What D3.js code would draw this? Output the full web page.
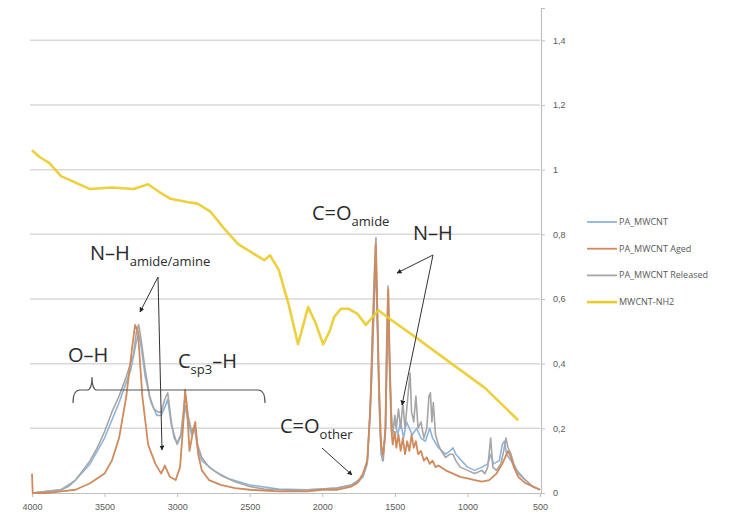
<!DOCTYPE html>
<html>
<head>
<meta charset="utf-8">
<script src="https://cdn.jsdelivr.net/npm/d3@7"></script>
<style>
  body { margin: 0; background: #fff; }
  svg { font-family: "Open Sans", "Liberation Sans", sans-serif; }
  .tick text { fill: #595959; font-size: 9px; }
</style>
</head>
<body>
<svg id="target" width="750" height="527"></svg>
<script>
// Wavenumber (cm-1) / absorbance pairs
let paMwcnt = [[4000,0],[3800,0.01],[3700,0.04],[3600,0.09],[3500,0.17],[3400,0.28],[3320,0.38],[3280,0.47],[3265,0.49],[3250,0.46],[3220,0.36],[3180,0.28],[3140,0.24],[3110,0.24],[3080,0.27],[3065,0.29],[3040,0.21],[3000,0.15],[2970,0.18],[2945,0.27],[2925,0.22],[2900,0.18],[2880,0.2],[2860,0.14],[2830,0.1],[2750,0.07],[2650,0.045],[2500,0.025],[2300,0.012],[2100,0.01],[1900,0.015],[1800,0.025],[1720,0.05],[1690,0.09],[1660,0.35],[1640,0.62],[1630,0.7],[1620,0.5],[1600,0.18],[1585,0.1],[1565,0.18],[1550,0.5],[1546,0.56],[1535,0.35],[1520,0.2],[1500,0.22],[1480,0.18],[1460,0.22],[1440,0.17],[1420,0.22],[1400,0.2],[1380,0.18],[1350,0.2],[1320,0.17],[1290,0.16],[1260,0.2],[1240,0.17],[1200,0.14],[1150,0.12],[1120,0.13],[1100,0.14],[1080,0.12],[1040,0.1],[1000,0.08],[950,0.07],[900,0.08],[860,0.09],[840,0.12],[820,0.09],[780,0.1],[760,0.15],[745,0.16],[730,0.12],[700,0.1],[660,0.07],[600,0.04],[550,0.02],[500,0.01]];

let paMwcntAged = [[4000,0.06],[3995,0],[3900,0],[3800,0.005],[3700,0.01],[3600,0.03],[3500,0.06],[3450,0.1],[3400,0.17],[3350,0.3],[3310,0.45],[3290,0.52],[3270,0.5],[3240,0.3],[3200,0.15],[3150,0.09],[3110,0.06],[3085,0.085],[3050,0.05],[3010,0.04],[2980,0.08],[2960,0.2],[2945,0.32],[2930,0.25],[2915,0.13],[2895,0.18],[2875,0.22],[2855,0.12],[2830,0.07],[2780,0.04],[2700,0.025],[2600,0.015],[2500,0.01],[2300,0.005],[2100,0.005],[2000,0.01],[1900,0.01],[1800,0.02],[1760,0.03],[1720,0.06],[1690,0.1],[1670,0.25],[1655,0.45],[1640,0.65],[1632,0.77],[1625,0.65],[1610,0.35],[1595,0.15],[1580,0.12],[1565,0.2],[1555,0.45],[1545,0.63],[1535,0.4],[1525,0.2],[1515,0.15],[1500,0.19],[1490,0.14],[1475,0.18],[1460,0.13],[1445,0.17],[1430,0.12],[1415,0.16],[1400,0.13],[1385,0.18],[1370,0.14],[1355,0.16],[1340,0.12],[1320,0.13],[1300,0.1],[1280,0.11],[1260,0.09],[1240,0.1],[1220,0.08],[1200,0.085],[1150,0.07],[1100,0.06],[1050,0.05],[1000,0.045],[950,0.04],[900,0.035],[850,0.04],[800,0.06],[760,0.09],[740,0.11],[720,0.13],[700,0.11],[680,0.08],[650,0.05],[600,0.03],[550,0.02],[500,0.01]];

let paMwcntReleased = [[4000,0],[3900,0.005],[3800,0.01],[3750,0.02],[3700,0.04],[3650,0.07],[3600,0.1],[3550,0.14],[3500,0.19],[3450,0.25],[3400,0.3],[3350,0.36],[3300,0.43],[3280,0.5],[3265,0.52],[3250,0.48],[3220,0.38],[3190,0.3],[3160,0.26],[3130,0.25],[3110,0.25],[3085,0.29],[3065,0.31],[3040,0.22],[3020,0.17],[3000,0.155],[2975,0.18],[2950,0.28],[2940,0.3],[2925,0.24],[2900,0.19],[2880,0.21],[2860,0.15],[2830,0.11],[2780,0.08],[2700,0.055],[2600,0.035],[2500,0.02],[2400,0.012],[2300,0.01],[2200,0.008],[2100,0.01],[2000,0.012],[1900,0.015],[1800,0.025],[1750,0.035],[1720,0.05],[1690,0.1],[1670,0.25],[1655,0.5],[1640,0.7],[1630,0.79],[1622,0.6],[1610,0.3],[1595,0.12],[1580,0.1],[1565,0.2],[1555,0.5],[1547,0.64],[1538,0.45],[1525,0.25],[1515,0.18],[1500,0.24],[1490,0.2],[1475,0.26],[1460,0.2],[1445,0.28],[1430,0.2],[1410,0.3],[1395,0.37],[1385,0.25],[1370,0.22],[1355,0.3],[1340,0.2],[1320,0.22],[1300,0.17],[1280,0.2],[1265,0.3],[1255,0.31],[1245,0.22],[1235,0.28],[1220,0.18],[1200,0.15],[1180,0.13],[1150,0.11],[1120,0.12],[1100,0.12],[1080,0.1],[1050,0.08],[1000,0.07],[950,0.06],[900,0.07],[880,0.06],[860,0.08],[840,0.17],[825,0.08],[800,0.07],[770,0.09],[750,0.13],[735,0.17],[720,0.14],[700,0.12],[680,0.09],[650,0.06],[600,0.04],[550,0.02],[500,0.01]];

let mwcntNh2 = [[4000,1.06],[3950,1.04],[3880,1.02],[3800,0.98],[3700,0.96],[3600,0.94],[3450,0.945],[3300,0.94],[3200,0.955],[3120,0.93],[3045,0.91],[2930,0.9],[2860,0.895],[2770,0.87],[2680,0.82],[2580,0.77],[2490,0.745],[2400,0.72],[2360,0.735],[2300,0.69],[2230,0.58],[2167,0.46],[2098,0.575],[2050,0.53],[1994,0.46],[1950,0.5],[1918,0.545],[1870,0.57],[1821,0.57],[1760,0.555],[1700,0.52],[1614,0.565],[1524,0.535],[1337,0.475],[1109,0.4],[880,0.325],[650,0.225]];

let seriesNames = ["PA_MWCNT", "PA_MWCNT Aged", "PA_MWCNT Released", "MWCNT-NH2"];
let seriesColors = ["#8fb4dc", "#d08a5c", "#a6a6a6", "#ebcb2a"];
let xTicks = [4000, 3500, 3000, 2500, 2000, 1500, 1000, 500];
let yTicks = [0, 0.2, 0.4, 0.6, 0.8, 1, 1.2, 1.4];

function main() {
    let svg = d3.select("#target");

    let x = d3.scaleLinear().domain([4000, 500]).range([32, 540]);
    let y = d3.scaleLinear().domain([0, 1.5]).range([493, 8]);

    // Horizontal gridlines
    svg.append("g")
        .selectAll("line")
        .data(yTicks.filter(d => d > 0))
        .enter()
        .append("line")
        .attr("x1", 30)
        .attr("x2", x(500))
        .attr("y1", d => y(d))
        .attr("y2", d => y(d))
        .attr("stroke", "#d9d9d9")
        .attr("stroke-width", 1.5);

    // Right y axis
    let comma = d => d3.format("~g")(d).replace(".", ",");
    let yAxis = svg.append("g")
        .attr("transform", "translate(" + (x(500) + 1) + ",0)")
        .call(d3.axisRight(y).tickValues(yTicks).tickFormat(comma).tickSize(4).tickPadding(8));
    yAxis.select(".domain").attr("stroke", "#bfbfbf").attr("stroke-width", 1.2);
    yAxis.selectAll(".tick line").attr("stroke", "#bfbfbf");

    // Bottom x axis
    let xAxis = svg.append("g")
        .attr("transform", "translate(0," + y(0) + ")")
        .call(d3.axisBottom(x).tickValues(xTicks).tickFormat(d3.format("d")).tickSize(4).tickPadding(7));
    xAxis.select(".domain").attr("stroke", "#bfbfbf").attr("stroke-width", 1.2);
    xAxis.selectAll(".tick line").attr("stroke", "#bfbfbf");

    // Spectra
    let line = d3.line().x(d => x(d[0])).y(d => y(d[1]));
    let allSeries = [paMwcnt, paMwcntAged, paMwcntReleased, mwcntNh2];
    let widths = [1.6, 1.8, 1.6, 2.6];
    let order = [0, 2, 1, 3];
    order.forEach(i => {
        svg.append("path")
            .datum(allSeries[i])
            .attr("fill", "none")
            .attr("stroke", seriesColors[i])
            .attr("stroke-width", widths[i])
            .attr("stroke-linejoin", "round")
            .attr("opacity", i === 3 ? 0.9 : 1)
            .attr("d", line);
    });

    // Legend
    let legend = svg.append("g");
    seriesNames.forEach((name, i) => {
        let ly = 222 + i * 26.7;
        legend.append("line")
            .attr("x1", 587).attr("x2", 617)
            .attr("y1", ly).attr("y2", ly)
            .attr("stroke", seriesColors[i])
            .attr("stroke-width", i === 3 ? 2.6 : 1.8);
        legend.append("text")
            .attr("x", 619).attr("y", ly + 3)
            .attr("font-size", 9)
            .attr("fill", "#595959")
            .text(name);
    });

    // Annotations
    svg.append("defs").append("marker")
        .attr("id", "head")
        .attr("viewBox", "0 0 10 10")
        .attr("refX", 9).attr("refY", 5)
        .attr("markerWidth", 5).attr("markerHeight", 5)
        .attr("orient", "auto")
        .append("path")
        .attr("d", "M0,0 L10,5 L0,10 z")
        .attr("fill", "#222");

    let ann = svg.append("g").attr("fill", "#2b2b2b");

    function label(px, py, main, sub, tail) {
        let t = ann.append("text").attr("x", px).attr("y", py).attr("font-size", 20);
        t.append("tspan").text(main);
        if (sub) t.append("tspan").attr("font-size", 13).attr("dy", 6).text(sub);
        if (tail) t.append("tspan").attr("dy", -6).text(tail);
    }
    label(90, 260, "N–H", "amide/amine");
    label(68, 362, "O–H");
    label(178, 368, "C", "sp3", "–H");
    label(312, 220, "C=O", "amide");
    label(413, 240, "N–H");
    label(280, 433, "C=O", "other");

    let arrows = [
        [158, 277, 140, 312],
        [158, 277, 162, 450],
        [433, 255, 397, 273],
        [433, 255, 402, 405],
        [322, 448, 352, 475]
    ];
    svg.append("g")
        .selectAll("line")
        .data(arrows)
        .enter()
        .append("line")
        .attr("x1", d => d[0]).attr("y1", d => d[1])
        .attr("x2", d => d[2]).attr("y2", d => d[3])
        .attr("stroke", "#333")
        .attr("stroke-width", 1)
        .attr("marker-end", "url(#head)");

    // Brace under O-H / Csp3-H
    svg.append("path")
        .attr("d", "M73,403 Q73,390 80,390 L87,390 Q92,390 92,377 Q92,390 97,390 L258,390 Q265,390 265,403")
        .attr("fill", "none")
        .attr("stroke", "#555")
        .attr("stroke-width", 1.2);
}

main();
</script>
</body>
</html>
